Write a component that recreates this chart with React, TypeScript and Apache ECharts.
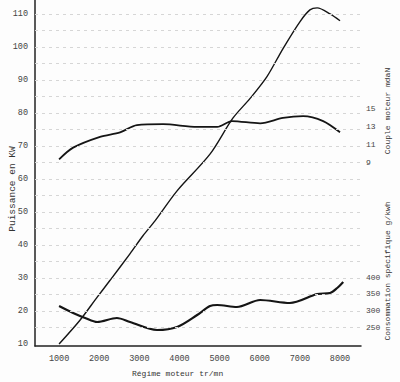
import React, { useEffect, useRef } from "react";
import * as echarts from "echarts";

// Tick labels
const rpmTicks = [1000, 2000, 3000, 4000, 5000, 6000, 7000, 8000];
const powerTicks = [10, 20, 30, 40, 50, 60, 70, 80, 90, 100, 110];
const powerGridLines = [15, 20, 25, 30, 35, 40, 45, 50, 55, 60, 65, 70, 75, 80, 85, 90, 95, 100, 105, 110];
const torqueTicks = [9, 11, 13, 15];
const consTicks = [250, 300, 350, 400];

// Puissance (kW)
const powerRpm = [1000, 1520, 1950, 2270, 2770, 3090, 3390, 3940, 4760, 5330, 5760, 6180, 6580, 7000, 7250, 7430, 7750, 8000];
const powerKW = [10, 17.2, 24.2, 29.3, 37.4, 42.8, 47.3, 56.4, 67.5, 78.4, 84.4, 91, 99.5, 107.6, 111.2, 111.8, 110, 107.9];

// Couple moteur (mdaN)
const torqueRpm = [1000, 1350, 2020, 2520, 2940, 3590, 4440, 4940, 5310, 6010, 6580, 7080, 7580, 8000];
const torqueMdaN = [9.3, 10.6, 11.8, 12.3, 13.1, 13.2, 12.9, 12.9, 13.55, 13.3, 13.9, 14.1, 13.55, 12.3];

// Consommation spécifique (g/kWh)
const consRpm = [1000, 1350, 1650, 1950, 2440, 2770, 3440, 3940, 4440, 4760, 4940, 5430, 6010, 6750, 7430, 7750, 7930, 8080];
const consGkWh = [313, 292, 277, 265, 277, 265, 241, 250, 286, 313, 316, 310, 331, 322, 349, 352, 367, 385];

const FONT = "'Liberation Mono', 'DejaVu Sans Mono', monospace";
const INK = "#151515";

export default function App() {
  const ref = useRef<HTMLDivElement>(null);
  useEffect(() => {
    if (!ref.current) return;
    const chart = echarts.init(ref.current, null, { renderer: "svg" });
    const zip = (xs: number[], ys: number[]) => xs.map((x, i) => [x, ys[i]]);
    const plain = (v: number) => String(v);
    chart.setOption({
      animation: false,
      backgroundColor: "#fdfdfd",
      grid: { left: 35, right: 39, top: 0, bottom: 36 },
      xAxis: {
        type: "value",
        min: 400,
        max: 8523,
        axisLine: { show: true, onZero: false, lineStyle: { color: "#222", width: 1.5 } },
        axisTick: { show: false },
        splitLine: { show: false },
        axisLabel: {
          customValues: rpmTicks,
          formatter: plain,
          fontFamily: FONT,
          fontSize: 8.5,
          color: "#444",
          margin: 8,
        },
      },
      yAxis: [
        {
          type: "value",
          min: 9.4,
          max: 114.2,
          axisLine: { show: true, onZero: false, lineStyle: { color: "#222", width: 1.5 } },
          axisTick: { show: false },
          splitLine: { show: false },
          axisLabel: {
            customValues: powerTicks,
            formatter: plain,
            fontFamily: FONT,
            fontSize: 8.5,
            color: "#444",
            margin: 7,
          },
        },
        {
          type: "value",
          position: "right",
          min: -11.44,
          max: 27,
          axisLine: { show: false, onZero: false },
          axisTick: { show: false },
          splitLine: { show: false },
          axisLabel: {
            customValues: torqueTicks,
            formatter: plain,
            fontFamily: FONT,
            fontSize: 8,
            color: "#444",
            margin: 5,
          },
        },
        {
          type: "value",
          position: "right",
          offset: 0,
          min: 193,
          max: 1231,
          axisLine: { show: false, onZero: false },
          axisTick: { show: false },
          splitLine: { show: false },
          axisLabel: {
            customValues: consTicks,
            formatter: plain,
            fontFamily: FONT,
            fontSize: 8,
            color: "#444",
            margin: 5,
          },
        },
      ],
      series: [
        {
          type: "line",
          name: "Puissance",
          yAxisIndex: 0,
          data: zip(powerRpm, powerKW),
          smooth: 0.3,
          showSymbol: false,
          lineStyle: { color: INK, width: 1.4 },
          markLine: {
            silent: true,
            symbol: ["none", "none"],
            label: { show: false },
            lineStyle: { type: [3, 4], color: "#d6d6d6", width: 1 },
            data: powerGridLines.map((v) => ({ yAxis: v })),
          },
        },
        {
          type: "line",
          name: "Couple",
          yAxisIndex: 1,
          data: zip(torqueRpm, torqueMdaN),
          smooth: 0.3,
          showSymbol: false,
          lineStyle: { color: INK, width: 1.8 },
        },
        {
          type: "line",
          name: "Consommation",
          yAxisIndex: 2,
          data: zip(consRpm, consGkWh),
          smooth: 0.3,
          showSymbol: false,
          lineStyle: { color: INK, width: 2.2 },
        },
      ],
      graphic: [
        {
          type: "text",
          x: 12,
          y: 189,
          rotation: Math.PI / 2,
          style: {
            text: "Puissance en KW",
            font: `9.5px ${FONT}`,
            fill: "#333",
            align: "center",
            verticalAlign: "middle",
            textAlign: "center",
            textVerticalAlign: "middle",
          },
        },
        {
          type: "text",
          x: 387,
          y: 111,
          rotation: Math.PI / 2,
          style: {
            text: "Couple moteur mdaN",
            font: `8px ${FONT}`,
            fill: "#333",
            align: "center",
            verticalAlign: "middle",
            textAlign: "center",
            textVerticalAlign: "middle",
          },
        },
        {
          type: "text",
          x: 387,
          y: 271,
          rotation: Math.PI / 2,
          style: {
            text: "Consommation spécifique g/kwh",
            font: `8px ${FONT}`,
            fill: "#333",
            align: "center",
            verticalAlign: "middle",
            textAlign: "center",
            textVerticalAlign: "middle",
          },
        },
        {
          type: "text",
          x: 132,
          y: 373,
          style: {
            text: "Régime moteur tr/mn",
            font: `8px ${FONT}`,
            fill: "#333",
            align: "left",
            verticalAlign: "middle",
            textAlign: "left",
            textVerticalAlign: "middle",
          },
        },
      ],
    });
    return () => chart.dispose();
  }, []);
  return (
    <div
      ref={ref}
      style={{ position: "fixed", left: 0, top: 0, width: 400, height: 382 }}
    />
  );
}
